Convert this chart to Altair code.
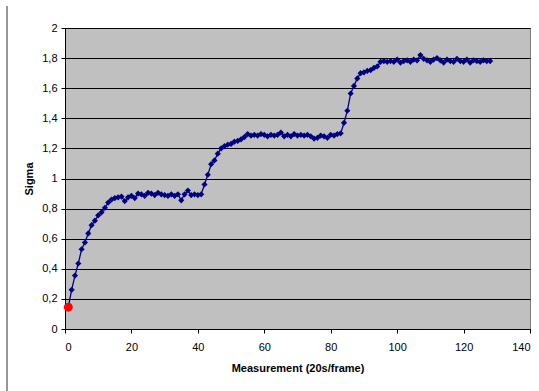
import altair as alt
import pandas as pd

measurement = list(range(1, 129))
sigma = [
    0.145, 0.26, 0.355, 0.435, 0.53, 0.575, 0.635, 0.69, 0.72, 0.755,
    0.775, 0.805, 0.84, 0.86, 0.87, 0.875, 0.88, 0.85, 0.875, 0.885,
    0.87, 0.9, 0.895, 0.885, 0.905, 0.9, 0.89, 0.905, 0.895, 0.89,
    0.885, 0.895, 0.885, 0.895, 0.855, 0.895, 0.92, 0.89, 0.895, 0.89,
    0.895, 0.96, 1.025, 1.095, 1.12, 1.165, 1.2, 1.215, 1.225, 1.23,
    1.245, 1.25, 1.26, 1.275, 1.295, 1.285, 1.29, 1.285, 1.295, 1.29,
    1.28, 1.29, 1.285, 1.29, 1.305, 1.28, 1.29, 1.28, 1.295, 1.285,
    1.29, 1.285, 1.29, 1.28, 1.265, 1.27, 1.285, 1.28, 1.27, 1.29,
    1.285, 1.295, 1.3, 1.37, 1.45, 1.565, 1.615, 1.665, 1.7, 1.705,
    1.715, 1.72, 1.735, 1.745, 1.775, 1.78, 1.775, 1.78, 1.775, 1.79,
    1.77, 1.78, 1.785, 1.775, 1.79, 1.785, 1.82, 1.795, 1.785, 1.775,
    1.79, 1.8, 1.785, 1.77, 1.79, 1.78, 1.775, 1.795, 1.78, 1.775,
    1.79, 1.77, 1.785, 1.78, 1.775, 1.785, 1.78, 1.78,
]
start_x = [1]
start_y = [0.145]
x_ticks = [0, 20, 40, 60, 80, 100, 120, 140]
y_ticks = [0, 0.2, 0.4, 0.6, 0.8, 1, 1.2, 1.4, 1.6, 1.8, 2]

df = pd.DataFrame({"m": measurement, "s": sigma})
df0 = pd.DataFrame({"m": start_x, "s": start_y})

x = alt.X("m:Q", scale=alt.Scale(domain=[0, 140], nice=False),
          axis=alt.Axis(values=x_ticks, title="Measurement (20s/frame)", grid=False,
                        labelPadding=8, titlePadding=10))
y = alt.Y("s:Q", scale=alt.Scale(domain=[0, 2], nice=False),
          axis=alt.Axis(values=y_ticks, title="Sigma", grid=True, gridColor="#000000",
                        gridWidth=1, gridOpacity=1,
                        labelExpr="replace(format(datum.value, '~g'), '.', ',')",
                        labelPadding=4, titlePadding=7))

line = alt.Chart(df).mark_line(
    color="#000080", strokeWidth=1.3,
    point=alt.OverlayMarkDef(shape="diamond", size=38, filled=True, color="#000080", opacity=1),
).encode(x=x, y=y)

start = alt.Chart(df0).mark_circle(size=80, color="#FF0000", opacity=1).encode(x=x, y=y)

frame = alt.Chart(pd.DataFrame({"a": [0]})).mark_rule(color="#303030", strokeWidth=1).encode(
    x=alt.value(-58), y=alt.value(-22), y2=alt.value(363)
)

chart = alt.layer(line, start, frame).properties(
    width=465, height=301,
    autosize=alt.AutoSizeParams(type="none"),
    padding={"left": 65, "top": 28, "right": 9, "bottom": 62},
).configure_view(
    fill="#C0C0C0", stroke="#808080", strokeWidth=1
).configure_axis(
    labelFont="Liberation Sans", labelFontSize=11, labelColor="#000000",
    titleFont="Liberation Sans", titleFontSize=11, titleFontWeight="bold", titleColor="#000000",
    domainColor="#000000", tickColor="#000000", tickSize=4,
)

chart.save("out.html", embed_options={"renderer": "svg", "actions": False})
